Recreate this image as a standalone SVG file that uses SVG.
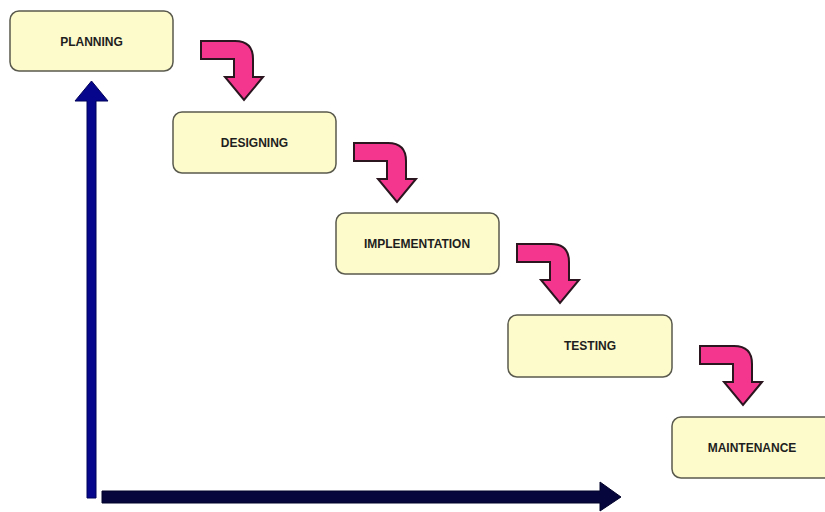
<svg xmlns="http://www.w3.org/2000/svg" width="825" height="512" viewBox="0 0 825 512">
  <style>
    .box { fill: #fdfbcb; stroke: #5a5a4e; stroke-width: 1.5; }
    .label { font-family: "Liberation Sans", Arial, sans-serif; font-size: 12px; font-weight: bold; fill: #1e1e1e; text-anchor: middle; }
    .bend { fill: #f5368f; stroke: #2b1620; stroke-width: 2; stroke-linejoin: miter; }
  </style>
  <defs>
    <!-- bent step arrow: shaft right, rounded corner, then head pointing down -->
    <path id="stepArrow" class="bend" d="M0,0 H34 Q52,0 52,18 V36 H62 L43,59 L24,36 H33 V18 H0 Z"/>
  </defs>
  <rect width="825" height="512" fill="#ffffff"/>

  <g id="connectors">
    <use href="#stepArrow" transform="translate(201,41)"/>
    <use href="#stepArrow" transform="translate(354,143)"/>
    <use href="#stepArrow" transform="translate(517,244)"/>
    <use href="#stepArrow" transform="translate(700,346)"/>
    <!-- vertical axis arrow -->
    <path id="axis-up" d="M87,498 V101 H75 L91.5,81 L108,101 H96 V498 Z" fill="#05068c" stroke="#03035a" stroke-width="1"/>
    <!-- horizontal axis arrow -->
    <path id="axis-right" d="M102,491 H600 V482 L621,497 L600,511 V503 H102 Z" fill="#06063c" stroke="#03032a" stroke-width="1"/>
  </g>

  <g id="planning">
    <rect class="box" x="10" y="11" width="163" height="60" rx="9"/>
    <text class="label" x="91.5" y="45.5">PLANNING</text>
  </g>
  <g id="designing">
    <rect class="box" x="173" y="112" width="163" height="61" rx="9"/>
    <text class="label" x="254.5" y="146.5">DESIGNING</text>
  </g>
  <g id="implementation">
    <rect class="box" x="336" y="213" width="163" height="61" rx="9"/>
    <text class="label" x="417" y="247.5">IMPLEMENTATION</text>
  </g>
  <g id="testing">
    <rect class="box" x="508" y="315" width="164" height="62" rx="9"/>
    <text class="label" x="590" y="350">TESTING</text>
  </g>
  <g id="maintenance">
    <rect class="box" x="672" y="417" width="162" height="61" rx="9"/>
    <text class="label" x="752" y="451.5">MAINTENANCE</text>
  </g>
</svg>
